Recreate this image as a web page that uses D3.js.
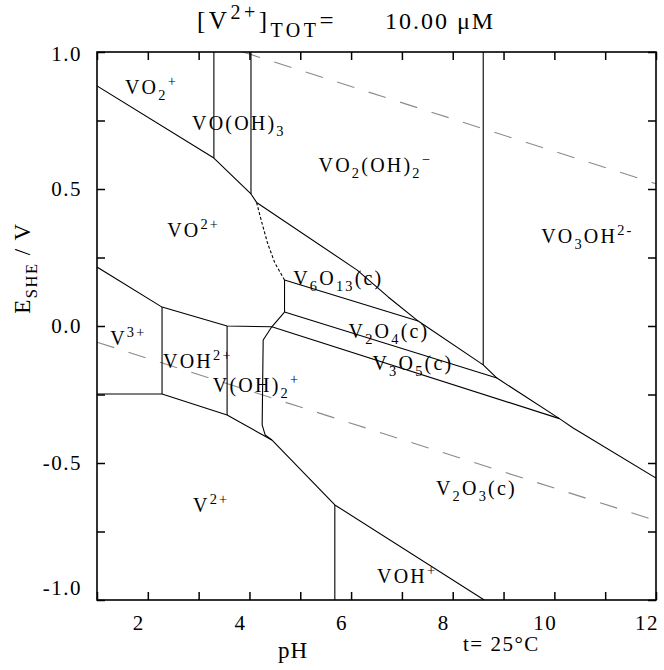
<!DOCTYPE html>
<html><head><meta charset="utf-8">
<script src="https://cdn.jsdelivr.net/npm/d3@7"></script>
<style>
html,body{margin:0;padding:0;background:#fff;}
svg{display:block;font-family:"Liberation Serif","DejaVu Serif",serif;}
</style></head>
<body>
<script>
// ---------- data ----------
const pHDomain = [1, 12];
const EDomain = [-1, 1];
const xTickLabels = [2, 4, 6, 8, 10, 12];
const yTickLabels = [1.0, 0.5, 0.0, -0.5, -1.0];
const xMinorTicks = [1,2,3,4,5,6,7,8,9,10,11,12];
const yMinorTicks = [-1,-0.75,-0.5,-0.25,0,0.25,0.5,0.75,1];

// water stability lines (pH, E)
const o2Line = [[3.87, 1.0], [12, 0.519]];
const h2Line = [[1, -0.059], [12, -0.710]];

// predominance boundaries (pH, E)
const bVO2p_VO2p   = [[1.0, 0.876], [3.30, 0.613], [4.03, 0.482], [4.14, 0.451]];
const bVO2p_VOOH3  = [[3.30, 0.613], [3.30, 1.0]];
const bVOOH3_VO2OH2= [[4.03, 0.482], [4.03, 1.0]];
const bVO2p_V6O13  = [[4.14, 0.451], [4.24, 0.380], [4.36, 0.300], [4.50, 0.230], [4.69, 0.168]];
const bUpperSolids = [[4.14, 0.451], [6.12, 0.204], [6.73, 0.106], [7.32, 0.018], [8.60, -0.142], [8.87, -0.190], [10.1, -0.338], [10.37, -0.372], [12.0, -0.555]];
const bVO2OH2_VO3OH= [[8.60, 1.0], [8.60, -0.142]];
const bV6O13_V2O4  = [[4.69, 0.168], [7.32, 0.018]];
const bVO2p_V2O4   = [[4.69, 0.168], [4.69, 0.051]];
const bV2O4_V3O5   = [[4.69, 0.051], [8.87, -0.190]];
const bVO2p_V3O5   = [[4.44, -0.003], [4.69, 0.051]];
const bV3O5_V2O3   = [[4.44, -0.003], [10.1, -0.338]];
const bVO2p_lower  = [[1.0, 0.215], [2.28, 0.069], [3.56, 0.0], [4.44, -0.003]];
const bV3p_VOH2p   = [[2.28, 0.069], [2.28, -0.248]];
const bV3p_V2p     = [[1.0, -0.248], [2.28, -0.248]];
const bV2p_upper   = [[2.28, -0.248], [3.56, -0.325], [4.44, -0.416]];
const bVOH2p_VOH2p = [[3.56, 0.0], [3.56, -0.325]];
const bVOH2p_V2O3  = [[4.44, -0.003], [4.27, -0.051], [4.25, -0.361], [4.31, -0.398], [4.44, -0.416]];
const bV2O3_lower  = [[4.44, -0.416], [5.68, -0.653], [8.62, -1.0]];
const bV2p_VOHp    = [[5.68, -0.653], [5.68, -1.0]];

const solidLines = [bVO2p_VO2p, bVO2p_VOOH3, bVOOH3_VO2OH2, bUpperSolids, bVO2OH2_VO3OH,
  bV6O13_V2O4, bVO2p_V2O4, bV2O4_V3O5, bVO2p_V3O5, bV3O5_V2O3, bVO2p_lower, bV3p_VOH2p,
  bV3p_V2p, bV2p_upper, bVOH2p_VOH2p, bVOH2p_V2O3, bV2O3_lower, bV2p_VOHp];
const dottedLines = [bVO2p_V6O13];

// species labels: formula parts and anchor (pH, E)
const speciesLabels = [
  {parts: [["VO"], ["2","sub"], ["+","sup"]], pH: 1.55, E: 0.847},
  {parts: [["VO(OH)"], ["3","sub"]], pH: 2.87, E: 0.715},
  {parts: [["VO"], ["2+","sup"]], pH: 2.38, E: 0.325},
  {parts: [["VO"], ["2","sub"], ["(OH)"], ["2","sub"], ["−","sup"]], pH: 5.36, E: 0.562},
  {parts: [["VO"], ["3","sub"], ["OH"], ["2-","sup"]], pH: 9.74, E: 0.303},
  {parts: [["V"], ["6","sub"], ["O"], ["13","sub"], ["(c)"]], pH: 4.86, E: 0.150},
  {parts: [["V"], ["2","sub"], ["O"], ["4","sub"], ["(c)"]], pH: 5.95, E: -0.044},
  {parts: [["V"], ["3","sub"], ["O"], ["5","sub"], ["(c)"]], pH: 6.42, E: -0.161},
  {parts: [["V"], ["3+","sup"]], pH: 1.26, E: -0.069},
  {parts: [["VOH"], ["2+","sup"]], pH: 2.30, E: -0.153},
  {parts: [["V(OH)"], ["2","sub"], ["+","sup"]], pH: 3.28, E: -0.241},
  {parts: [["V"], ["2+","sup"]], pH: 2.89, E: -0.679},
  {parts: [["V"], ["2","sub"], ["O"], ["3","sub"], ["(c)"]], pH: 7.67, E: -0.617},
  {parts: [["VOH"], ["+","sup"]], pH: 6.51, E: -0.938}
];

const titleParts = [["[V"], ["2+","sup"], ["]"], ["TOT","sub"], ["="]];
const titleValue = "10.00 μM";
const xAxisTitle = "pH";
const tempLabel = "t= 25°C";
const yAxisParts = [["E"], ["SHE","sub"], [" / V"]];

// ---------- drawing ----------
const W = 664, H = 670;
const svg = d3.select("body").append("svg").attr("width", W).attr("height", H);
const x = d3.scaleLinear().domain(pHDomain).range([97, 656]);
const y = d3.scaleLinear().domain(EDomain).range([600, 52]);

function rich(g, parts, px, py, size, ls, scr) {
  scr = scr || 0.72;
  const t = g.append("text").attr("x", px).attr("y", py)
    .attr("font-size", size).attr("letter-spacing", ls).attr("fill", "#000")
    .style("white-space", "pre");
  let cur = 0;
  parts.forEach(([s, kind]) => {
    const ts = t.append("tspan").text(s);
    let target = 0;
    if (kind === "sub") { target = size * 0.30; ts.attr("font-size", size * scr); }
    else if (kind === "sup") { target = -size * 0.40; ts.attr("font-size", size * scr); }
    ts.attr("dy", target - cur);
    cur = target;
  });
  return t;
}

svg.append("clipPath").attr("id", "plotclip").append("rect")
  .attr("x", 97).attr("y", 52).attr("width", 559).attr("height", 548);

const line = d3.line().x(d => x(d[0])).y(d => y(d[1]));
const plot = svg.append("g").attr("clip-path", "url(#plotclip)");

plot.selectAll("path.water").data([o2Line, h2Line]).join("path")
  .attr("class", "water").attr("d", line).attr("fill", "none")
  .attr("stroke", "#8a8a8a").attr("stroke-width", 1.1).attr("stroke-dasharray", "18,15");

plot.selectAll("path.bnd").data(solidLines).join("path")
  .attr("class", "bnd").attr("d", line).attr("fill", "none")
  .attr("stroke", "#000").attr("stroke-width", 1.1).attr("stroke-linejoin", "round");

plot.selectAll("path.dot").data(dottedLines).join("path")
  .attr("class", "dot").attr("d", line).attr("fill", "none")
  .attr("stroke", "#000").attr("stroke-width", 1.1).attr("stroke-dasharray", "3,2");

// axes ticks (inward, on all four sides)
const tk = 8;
svg.append("g").attr("transform", "translate(0,600)")
  .call(d3.axisBottom(x).tickValues(xMinorTicks).tickSize(-tk).tickFormat(""));
svg.append("g").attr("transform", "translate(0,52)")
  .call(d3.axisTop(x).tickValues(xMinorTicks).tickSize(-tk).tickFormat(""));
svg.append("g").attr("transform", "translate(97,0)")
  .call(d3.axisLeft(y).tickValues(yMinorTicks).tickSize(-tk).tickFormat(""));
svg.append("g").attr("transform", "translate(656,0)")
  .call(d3.axisRight(y).tickValues(yMinorTicks).tickSize(-tk).tickFormat(""));
svg.selectAll(".domain").remove();
svg.selectAll(".tick line").attr("stroke", "#000").attr("stroke-width", 1.5);

svg.append("rect").attr("x", 97).attr("y", 52).attr("width", 559).attr("height", 548)
  .attr("fill", "none").attr("stroke", "#000").attr("stroke-width", 1.6);

// tick labels
const labG = svg.append("g").attr("font-size", 21).attr("letter-spacing", 1.5);
labG.selectAll("text.xl").data(xTickLabels).join("text").attr("class", "xl")
  .attr("x", d => x(d) - 9).attr("y", 630).attr("text-anchor", "middle").text(d => d);
labG.selectAll("text.yl").data(yTickLabels).join("text").attr("class", "yl")
  .attr("x", 82).attr("y", d => y(d) + 7 - (d === EDomain[0] ? 12 : 0) + (d === EDomain[1] ? 2 : 0))
  .attr("text-anchor", "end").text(d => d.toFixed(1));

// species labels
const spG = svg.append("g");
speciesLabels.forEach(l => rich(spG, l.parts, x(l.pH), y(l.E), 20, 2.2));

// title
rich(svg, titleParts, 197, 29, 25, 3.5, 0.8);
svg.append("text").attr("x", 385).attr("y", 29).attr("font-size", 24).attr("letter-spacing", 2).text(titleValue);

// axis titles
svg.append("text").attr("x", 278).attr("y", 658).attr("font-size", 23).attr("letter-spacing", 1).text(xAxisTitle);
svg.append("text").attr("x", 463).attr("y", 651).attr("font-size", 21).attr("letter-spacing", 1.5).text(tempLabel);
const yt = svg.append("g").attr("transform", "translate(30,268) rotate(-90)");
rich(yt, yAxisParts, 0, 0, 23, 1.5).attr("text-anchor", "middle");
</script>
</body></html>
